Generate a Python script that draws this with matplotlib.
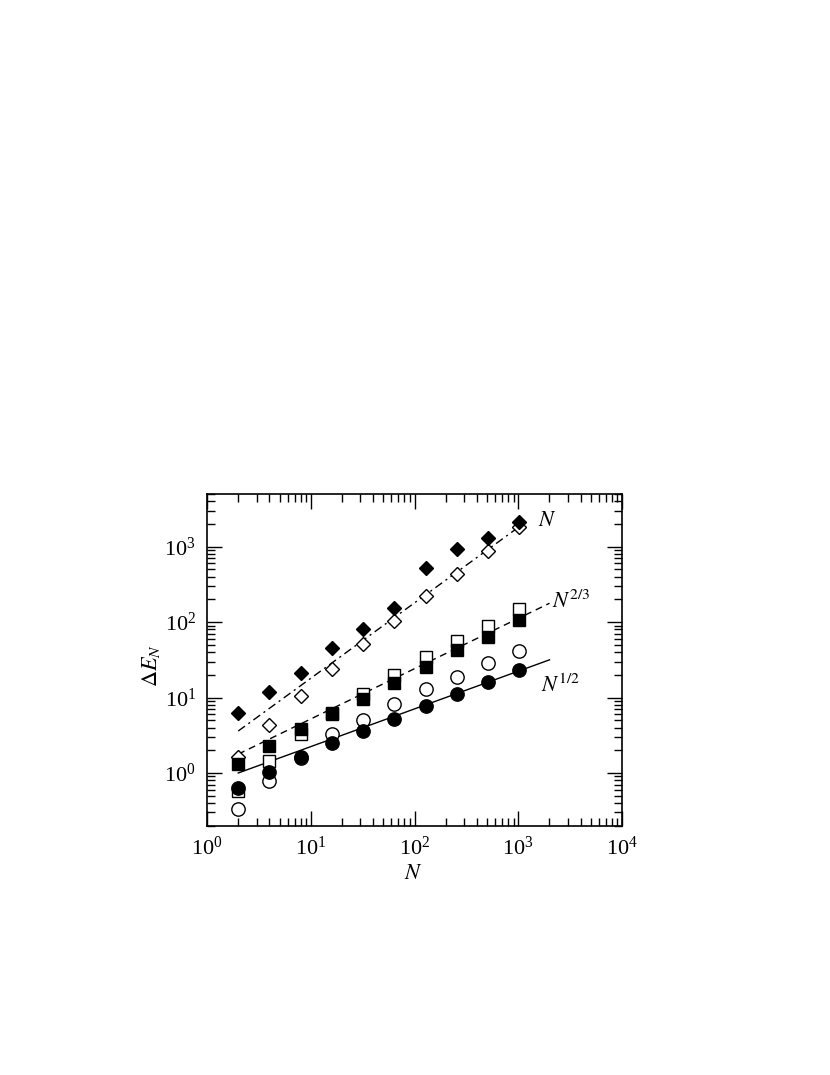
import numpy as np
import matplotlib
matplotlib.use("Agg")
import matplotlib.pyplot as plt
from matplotlib.ticker import LogLocator, NullFormatter

plt.rcParams['font.family'] = ['Liberation Serif', 'DejaVu Serif']
plt.rcParams['mathtext.fontset'] = 'stix'

# ---- data ----
N = [2, 4, 8, 16, 32, 64, 128, 256, 512, 1024]
filled_diamonds = [6.2, 11.7, 20.9, 44.9, 81, 155, 529, 935, 1290, 2150]
open_diamonds = [1.62, 4.3, 10.5, 23.8, 50.7, 104, 222, 436, 880, 1850]
filled_squares = [1.32, 2.25, 3.8, 6.2, 9.7, 15.4, 25.6, 42.6, 64, 106]
open_squares = [0.58, 1.45, 3.25, 6.0, 11.3, 19.8, 34, 56, 89, 148]
filled_circles = [0.64, 1.04, 1.63, 2.5, 3.6, 5.2, 7.8, 11.3, 16.2, 23.1]
open_circles = [0.335, 0.79, 1.6, 3.25, 5.0, 8.3, 12.8, 18.8, 28.9, 41.7]

fit_N_range = [2, 1000]
fit_N_coef = 1.8
fit_23_range = [2, 2000]
fit_23_coef = 1.12
fit_12_range = [2, 2000]
fit_12_coef = 0.7071

fig = plt.figure(figsize=(8.3, 10.75), dpi=100)
ax = fig.add_axes([0.2494, 0.2319, 0.5, 0.3086])

ax.set_xscale('log')
ax.set_yscale('log')
ax.set_xlim(1, 1e4)
ax.set_ylim(0.2, 5000)

# fit lines
x1 = np.logspace(np.log10(fit_N_range[0]), np.log10(fit_N_range[1]), 50)
ax.plot(x1, fit_N_coef * x1, color='black', lw=1.0, ls=(0, (6, 3, 1.5, 3)), zorder=1)
x2 = np.logspace(np.log10(fit_23_range[0]), np.log10(fit_23_range[1]), 50)
ax.plot(x2, fit_23_coef * x2 ** (2 / 3), color='black', lw=1.0, ls=(0, (5, 3.5)), zorder=1)
x3 = np.logspace(np.log10(fit_12_range[0]), np.log10(fit_12_range[1]), 50)
ax.plot(x3, fit_12_coef * x3 ** 0.5, color='black', lw=1.0, ls='-', zorder=1)

# markers
ax.plot(N, open_circles, 'o', ms=9.6, mfc='white', mec='black', mew=1.0, ls='none', zorder=2)
ax.plot(N, open_squares, 's', ms=8.3, mfc='white', mec='black', mew=1.0, ls='none', zorder=2)
ax.plot(N, open_diamonds, 'D', ms=7.0, mfc='white', mec='black', mew=1.0, ls='none', zorder=2)
ax.plot(N, filled_circles, 'o', ms=9.6, mfc='black', mec='black', mew=1.0, ls='none', zorder=3)
ax.plot(N, filled_squares, 's', ms=8.3, mfc='black', mec='black', mew=1.0, ls='none', zorder=3)
ax.plot(N, filled_diamonds, 'D', ms=7.0, mfc='black', mec='black', mew=1.0, ls='none', zorder=3)

# annotations
ax.text(1550, 2150, r'$N$', fontsize=16, ha='left', va='center')
ax.text(2120, 154, r'$N^{2/3}$', fontsize=16, ha='left', va='baseline')
ax.text(1650, 11.9, r'$N^{1/2}$', fontsize=16, ha='left', va='baseline')

# ticks
for a in (ax.xaxis, ax.yaxis):
    a.set_major_locator(LogLocator(base=10, numticks=20))
    a.set_minor_locator(LogLocator(base=10, subs=np.arange(2, 10), numticks=20))
    a.set_minor_formatter(NullFormatter())
ax.tick_params(which='major', direction='in', length=11, width=1.0, top=True, right=True,
               labelsize=16, pad=8)
ax.tick_params(which='minor', direction='in', length=5.5, width=1.0, top=True, right=True)
for s in ax.spines.values():
    s.set_linewidth(1.2)

ax.text(0.4976, -0.146, r'$N$', transform=ax.transAxes, fontsize=16, ha='center', va='center')
ax.text(-0.135, 0.484, r'$\Delta E_N$', transform=ax.transAxes, fontsize=16,
        ha='center', va='center', rotation=90)

fig.savefig('out.png', dpi=100)
